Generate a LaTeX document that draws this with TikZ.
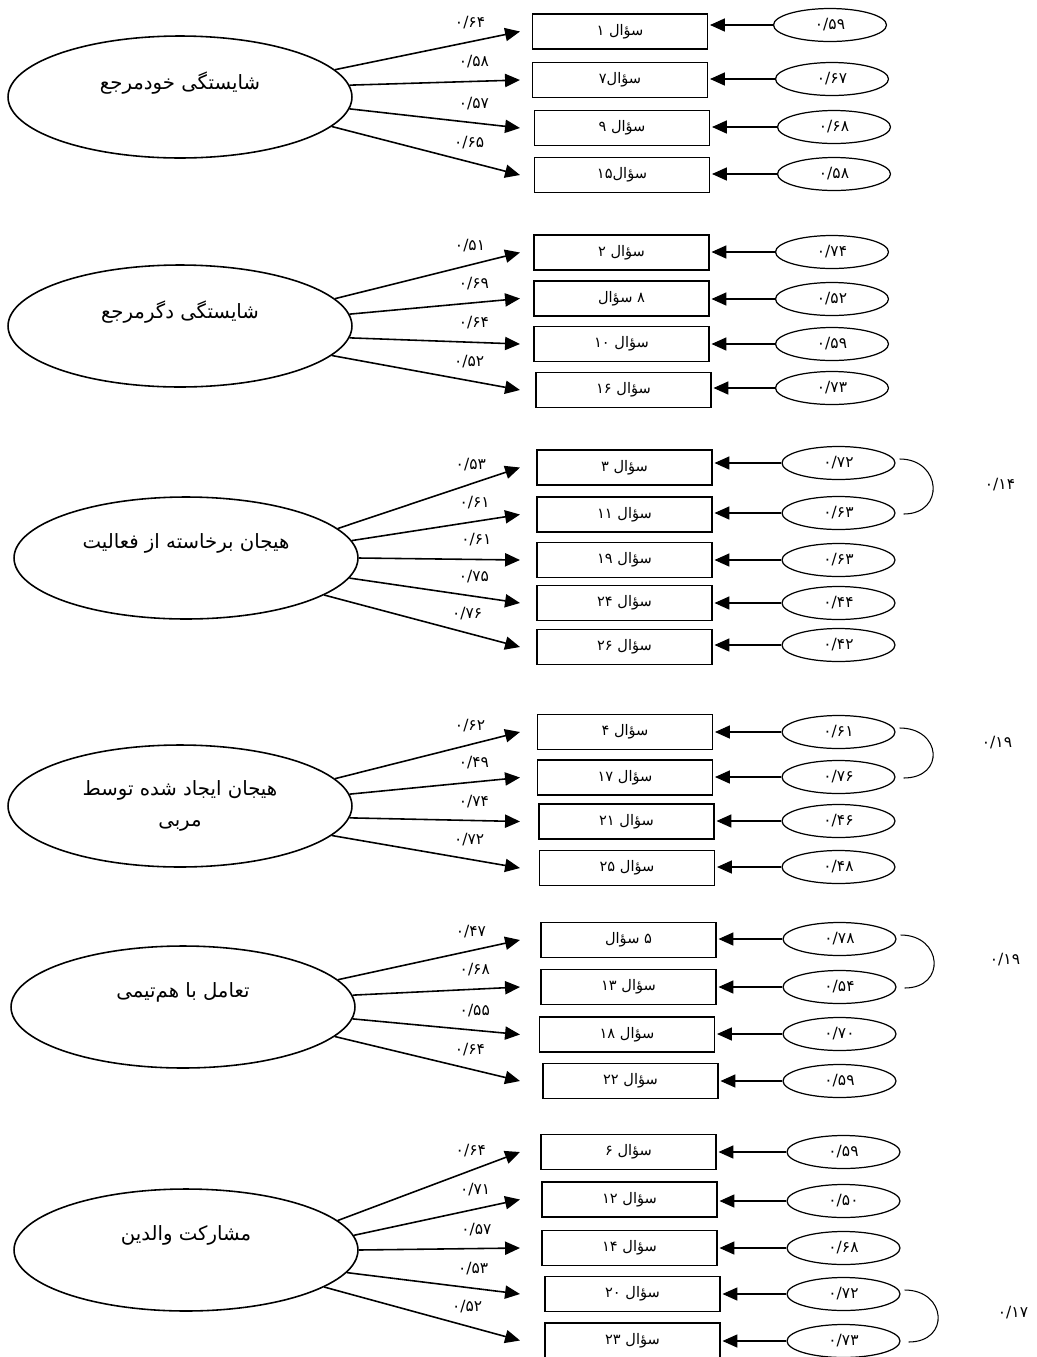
\documentclass[tikz,border=0pt]{standalone}
\usepackage{fontspec}
\newfontfamily\farsi[Script=Arabic]{DejaVu Sans}
\TeXXeTstate=1
\usetikzlibrary{arrows.meta,shapes.geometric}

\begin{document}
\begin{tikzpicture}[x=0.02cm,y=-0.02cm,
  latent/.style={ellipse,draw,line width=0.9pt,minimum width=6.88cm,minimum height=2.44cm,
    inner sep=0pt,font=\farsi\fontsize{11.2}{18}\selectfont},
  lift/.style={text depth=19pt},
  item/.style={rectangle,draw,line width=0.9pt,minimum width=3.5cm,minimum height=0.7cm,
    inner sep=0pt,font=\farsi\fontsize{8.3}{10}\selectfont},
  err/.style={ellipse,draw,line width=0.7pt,minimum width=2.26cm,minimum height=0.66cm,
    inner sep=0pt,font=\farsi\fontsize{8.8}{10}\selectfont},
  num/.style={inner sep=1pt,font=\farsi\fontsize{8.8}{10}\selectfont},
  load/.style={line width=0.9pt,-{Triangle[length=8.5pt,width=7.5pt]}},
  erra/.style={line width=0.6pt,-{Triangle[length=8.5pt,width=7.5pt]},shorten >=1pt},
  cov/.style={line width=0.6pt}]
\useasboundingbox (0,0) rectangle (1036,1357);
\coordinate (tips) at (520,0);

\node[latent,lift] (L1) at (180,97) {\beginR شایستگی خودمرجع\endR};
\foreach \n/\x/\y/\txt/\ex/\ey/\ev/\ang/\ld in {
  1/620/31.5/{۱ سؤال}/830/25/{۰/۵۹}/10/{۰/۶۴},
  7/620/80/{سؤال۷}/832/79/{۰/۶۷}/4/{۰/۵۸},
  9/622/128/{۹ سؤال}/834/127/{۰/۶۸}/-4/{۰/۵۷},
  15/622/175/{سؤال۱۵}/834/174/{۰/۵۸}/-11/{۰/۶۵}}{
\node[item] (q\n) at (\x,\y) {\txt};
\node[err] (e\n) at (\ex,\ey) {\ev};
\draw[erra] (e\n.west) -- (q\n.east |- e\n.west);
\draw[load] (L1.\ang) -- node[num,pos=.73,above=6pt] (w\n) {\ld} (q\n.west -| tips);
}

\node[latent,lift] (L2) at (180,326) {\beginR شایستگی دگرمرجع\endR};
\foreach \n/\x/\y/\txt/\ex/\ey/\ev/\ang/\ld in {
  2/621.5/252.5/{۲ سؤال}/832/252/{۰/۷۴}/10/{۰/۵۱},
  8/621.5/298.5/{سؤال ۸}/832/299/{۰/۵۲}/4/{۰/۶۹},
  10/621.5/344/{۱۰ سؤال}/832/344/{۰/۵۹}/-4/{۰/۶۴},
  16/623.5/390/{۱۶ سؤال}/832/388/{۰/۷۳}/-11/{۰/۵۲}}{
\node[item] (q\n) at (\x,\y) {\txt};
\node[err] (e\n) at (\ex,\ey) {\ev};
\draw[erra] (e\n.west) -- (q\n.east |- e\n.west);
\draw[load] (L2.\ang) -- node[num,pos=.73,above=6pt] (w\n) {\ld} (q\n.west -| tips);
}

\node[latent,lift] (L3) at (186,558) {\beginR هیجان برخاسته از فعالیت\endR};
\foreach \n/\x/\y/\txt/\ex/\ey/\ev/\ang/\ld in {
  3/624.5/467.5/{۳ سؤال}/838.5/463/{۰/۷۲}/11/{۰/۵۳},
  11/624.5/514.5/{۱۱ سؤال}/838.5/513/{۰/۶۳}/6/{۰/۶۱},
  19/624.5/560/{۱۹ سؤال}/838.5/560/{۰/۶۳}/0/{۰/۶۱},
  24/624.5/603/{۲۴ سؤال}/838.5/603/{۰/۴۴}/-7/{۰/۷۵},
  26/624.5/647/{۲۶ سؤال}/838.5/645/{۰/۴۲}/-15/{۰/۷۶}}{
\node[item] (q\n) at (\x,\y) {\txt};
\node[err] (e\n) at (\ex,\ey) {\ev};
\draw[erra] (e\n.west) -- (q\n.east |- e\n.west);
\draw[load] (L3.\ang) -- node[num,pos=.73,above=6pt] (w\n) {\ld} (q\n.west -| tips);
}
\draw[cov] ([shift={(4,-4)}]e3.east) .. controls +(42,0) and +(42,0) .. ([shift={(8,1)}]e11.east);
\node[num] (c1) at (1000,485) {۰/۱۴};

\node[latent,align=center] (L4) at (180,806) {\beginR هیجان ایجاد شده توسط\endR\\\beginR مربی\endR};
\foreach \n/\x/\y/\txt/\ex/\ey/\ev/\ang/\ld in {
  4/625/732/{۴ سؤال}/838.5/732/{۰/۶۱}/10/{۰/۶۲},
  17/625/777.5/{۱۷ سؤال}/838.5/777/{۰/۷۶}/4/{۰/۴۹},
  21/626.5/821.5/{۲۱ سؤال}/838.5/821/{۰/۴۶}/-4/{۰/۷۴},
  25/627/868/{۲۵ سؤال}/838.5/867/{۰/۴۸}/-11/{۰/۷۲}}{
\node[item] (q\n) at (\x,\y) {\txt};
\node[err] (e\n) at (\ex,\ey) {\ev};
\draw[erra] (e\n.west) -- (q\n.east |- e\n.west);
\draw[load] (L4.\ang) -- node[num,pos=.73,above=6pt] (w\n) {\ld} (q\n.west -| tips);
}
\draw[cov] ([shift={(4,-4)}]e4.east) .. controls +(42,0) and +(42,0) .. ([shift={(8,1)}]e17.east);
\node[num] (c2) at (997,743) {۰/۱۹};

\node[latent,lift] (L5) at (183,1007) {\beginR تعامل با هم^^^^200cتیمی\endR};
\foreach \n/\x/\y/\txt/\ex/\ey/\ev/\ang/\ld in {
  5/628.5/940/{سؤال ۵}/839.5/939/{۰/۷۸}/10/{۰/۴۷},
  13/628.5/987/{۱۳ سؤال}/839.5/987/{۰/۵۴}/4/{۰/۶۸},
  18/627/1034.5/{۱۸ سؤال}/839.5/1034/{۰/۷۰}/-4/{۰/۵۵},
  22/630.5/1081/{۲۲ سؤال}/839.5/1081/{۰/۵۹}/-11/{۰/۶۴}}{
\node[item] (q\n) at (\x,\y) {\txt};
\node[err] (e\n) at (\ex,\ey) {\ev};
\draw[erra] (e\n.west) -- (q\n.east |- e\n.west);
\draw[load] (L5.\ang) -- node[num,pos=.73,above=6pt] (w\n) {\ld} (q\n.west -| tips);
}
\draw[cov] ([shift={(4,-4)}]e5.east) .. controls +(42,0) and +(42,0) .. ([shift={(8,1)}]e13.east);
\node[num] (c3) at (1005,960) {۰/۱۹};

\node[latent,lift] (L6) at (186,1250) {\beginR مشارکت والدین\endR};
\foreach \n/\x/\y/\txt/\ex/\ey/\ev/\ang/\ld in {
  6/628.5/1152/{۶ سؤال}/843.5/1152/{۰/۵۹}/11/{۰/۶۴},
  12/629.5/1199.5/{۱۲ سؤال}/843.5/1201/{۰/۵۰}/5/{۰/۷۱},
  14/629.5/1248/{۱۴ سؤال}/843.5/1248/{۰/۶۸}/0/{۰/۵۷},
  20/632.5/1294/{۲۰ سؤال}/843.5/1294/{۰/۷۲}/-8/{۰/۵۳},
  23/632.5/1340.5/{۲۳ سؤال}/843.5/1341/{۰/۷۳}/-15/{۰/۵۲}}{
\node[item] (q\n) at (\x,\y) {\txt};
\node[err] (e\n) at (\ex,\ey) {\ev};
\draw[erra] (e\n.west) -- (q\n.east |- e\n.west);
\draw[load] (L6.\ang) -- node[num,pos=.73,above=6pt] (w\n) {\ld} (q\n.west -| tips);
}
\draw[cov] ([shift={(4,-4)}]e20.east) .. controls +(42,0) and +(42,0) .. ([shift={(8,1)}]e23.east);
\node[num] (c4) at (1013,1313) {۰/۱۷};
\end{tikzpicture}
\end{document}
